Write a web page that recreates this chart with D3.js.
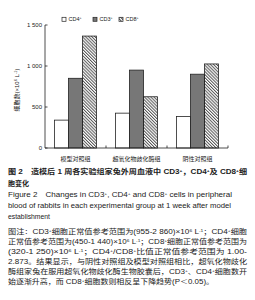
<!DOCTYPE html>
<html>
<head>
<meta charset="utf-8">
<script src="https://cdn.jsdelivr.net/npm/d3@7"></script>
<style>
  body { margin: 0; background: #fff; }
  text { font-family: "Liberation Sans", "Noto Sans CJK SC", sans-serif; fill: #222; }
</style>
</head>
<body>
<div id="chart"></div>
<script>
// data
const groups = ["模型对照组", "超氧化物歧化酶组", "阴性对照组"];
const series = ["CD4", "CD3", "CD8"];
const cd4 = [340, 425, 385];
const cd3 = [850, 950, 900];
const cd8 = [1365, 625, 1025];
const yTicks = [0, 500, 1000, 1500];
const yTickLabels = ["0", "500", "1 000", "1 500"];

const width = 255, height = 300;
const svg = d3.select("#chart").append("svg")
  .attr("width", width).attr("height", height);

// hatch for CD8
const defs = svg.append("defs");
defs.append("pattern")
  .attr("id", "hatch")
  .attr("patternUnits", "userSpaceOnUse")
  .attr("width", 2.2).attr("height", 2.2)
  .attr("patternTransform", "rotate(-45)")
  .append("rect")
  .attr("width", 1).attr("height", 2.2)
  .attr("fill", "#555");

const fills = { CD4: "#fff", CD3: "#777", CD8: "url(#hatch)" };

const x = d3.scaleBand().domain(groups).range([45, 228]);
const x1 = d3.scaleBand().domain(series).range([0, x.bandwidth()]).paddingOuter(0.68);
const y = d3.scaleLinear().domain([0, 1500]).range([148, 25]);

const rows = groups.map((g, i) => ({ group: g, CD4: cd4[i], CD3: cd3[i], CD8: cd8[i] }));

// bars
svg.append("g")
  .selectAll("g")
  .data(rows)
  .join("g")
  .attr("transform", d => `translate(${x(d.group)},0)`)
  .selectAll("rect")
  .data(d => series.map(s => ({ s, v: d[s] })))
  .join("rect")
  .attr("x", d => x1(d.s))
  .attr("y", d => y(d.v))
  .attr("width", x1.bandwidth())
  .attr("height", d => y(0) - y(d.v))
  .attr("fill", d => fills[d.s])
  .attr("stroke", "#222")
  .attr("stroke-width", 0.8);

// y axis
const yAxis = svg.append("g").attr("transform", "translate(45,0)");
yAxis.append("line").attr("y1", y(0)).attr("y2", y(1500)).attr("stroke", "#222").attr("stroke-width", 0.8);
yAxis.selectAll(".tk").data(yTicks).join("line")
  .attr("x1", 0).attr("x2", 2.5)
  .attr("y1", d => y(d)).attr("y2", d => y(d))
  .attr("stroke", "#222").attr("stroke-width", 0.8);
yAxis.selectAll(".lb").data(yTicks).join("text")
  .attr("x", -3).attr("y", d => y(d) + 2)
  .attr("text-anchor", "end")
  .attr("font-size", 6)
  .text((d, i) => yTickLabels[i]);

// y label
const yl = svg.append("text")
  .attr("transform", "translate(19,90) rotate(-90)")
  .attr("text-anchor", "middle")
  .attr("font-size", 6)
  .attr("fill", "#444");
yl.append("tspan").text("细胞数(×10");
yl.append("tspan").attr("baseline-shift", "super").attr("font-size", 4).text("6");
yl.append("tspan").text(" L");
yl.append("tspan").attr("baseline-shift", "super").attr("font-size", 4).text("-1");
yl.append("tspan").text(")");

// x axis
const xAxis = svg.append("g");
xAxis.append("line").attr("x1", 45).attr("x2", 228).attr("y1", y(0)).attr("y2", y(0))
  .attr("stroke", "#222").attr("stroke-width", 0.8);
xAxis.selectAll(".tk").data(groups.slice(1).map(g => x(g)).concat([228])).join("line")
  .attr("x1", d => d).attr("x2", d => d)
  .attr("y1", y(0)).attr("y2", y(0) - 2.5)
  .attr("stroke", "#222").attr("stroke-width", 0.8);
xAxis.selectAll(".lb").data(groups).join("text")
  .attr("x", d => x(d) + x.bandwidth() / 2)
  .attr("y", 160.5)
  .attr("text-anchor", "middle")
  .attr("font-size", 6)
  .attr("font-family", "Noto Sans CJK SC")
  .text(d => d);

// legend
const legendX = [62, 93, 119];
const leg = svg.append("g");
series.forEach((s, i) => {
  leg.append("rect")
    .attr("x", legendX[i]).attr("y", 17.3)
    .attr("width", 4).attr("height", 4)
    .attr("fill", fills[s]).attr("stroke", "#222").attr("stroke-width", 0.7);
  const t = leg.append("text").attr("x", legendX[i] + 6.5).attr("y", 21.3).attr("font-size", 5.5);
  t.append("tspan").text(s);
  t.append("tspan").attr("baseline-shift", "super").attr("font-size", 3.5).text("+");
});

// rich text helper: ^{...} becomes superscript
function rich(yPos, str, size, opts = {}) {
  const t = svg.append("text")
    .attr("x", 8).attr("y", yPos)
    .attr("font-size", size)
    .attr("font-family", "Liberation Sans, Noto Sans CJK SC")
    .attr("font-weight", opts.bold ? "bold" : "normal");
  if (opts.len) t.attr("textLength", opts.len).attr("lengthAdjust", "spacingAndGlyphs");
  str.split(/(\^\{[^}]*\})/).forEach(part => {
    if (!part) return;
    if (part.startsWith("^{")) {
      t.append("tspan").attr("baseline-shift", "super").attr("font-size", size * 0.6).text(part.slice(2, -1));
    } else {
      t.append("tspan").text(part);
    }
  });
  return t;
}

rich(174, "图 2　造模后 1 周各实验组家兔外周血液中 CD3^{+}，CD4^{+}及 CD8^{+}细", 7, { bold: true, len: 239 });
rich(185.5, "胞变化", 7, { bold: true });
rich(196.5, "Figure 2　Changes in CD3^{+}, CD4^{+} and CD8^{+} cells in peripheral", 6.8, { len: 224 });
rich(207.5, "blood of rabbits in each experimental group at 1 week after model", 6.8, { len: 223 });
rich(218.5, "establishment", 6.8);
rich(234, "图注：CD3^{+}细胞正常值参考范围为(955-2 860)×10^{6} L^{-1}；CD4^{+}细胞", 6.3, { len: 239 });
rich(244, "正常值参考范围为(450-1 440)×10^{6} L^{-1}；CD8^{+}细胞正常值参考范围为", 6.3, { len: 239 });
rich(254, "(320-1 250)×10^{6} L^{-1}；CD4^{+}/CD8^{+}比值正常值参考范围为 1.00-", 6.3, { len: 239 });
rich(264, "2.873。结果显示，与阴性对照组及模型对照组相比，超氧化物歧化", 6.3, { len: 239 });
rich(274, "酶组家兔在服用超氧化物歧化酶生物胶囊后，CD3^{+}、CD4^{+}细胞数开", 6.3, { len: 239 });
rich(284, "始逐渐升高，而 CD8^{+}细胞数则相反呈下降趋势(P＜0.05)。", 6.3, { len: 206 });
</script>
</body>
</html>
